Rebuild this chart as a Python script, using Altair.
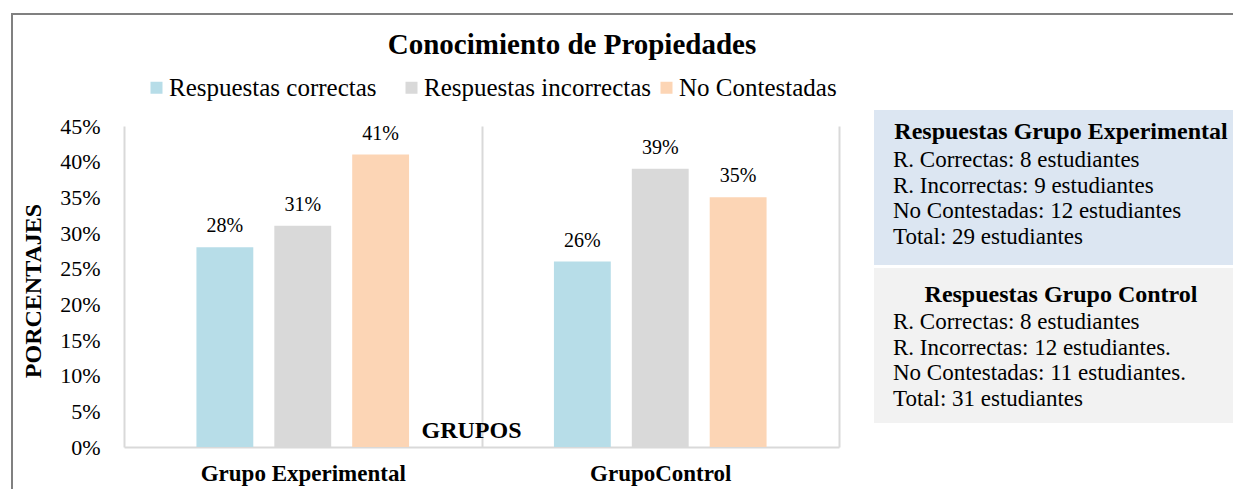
import altair as alt
import pandas as pd

# ---------------- data ----------------
groups = ["Grupo Experimental", "GrupoControl"]
series = ["Respuestas correctas", "Respuestas incorrectas", "No Contestadas"]
exp_values = [0.28, 0.31, 0.41]
ctrl_values = [0.26, 0.39, 0.35]
colors = ["#b7dde8", "#d9d9d9", "#fcd5b5"]
y_ticks = [0.0, 0.05, 0.10, 0.15, 0.20, 0.25, 0.30, 0.35, 0.40, 0.45]

title_text = "Conocimiento de Propiedades"
x_title = "GRUPOS"
y_title = "PORCENTAJES"
exp_box_title = "Respuestas Grupo Experimental"
exp_box_lines = ["R. Correctas: 8 estudiantes", "R. Incorrectas: 9 estudiantes",
                 "No Contestadas: 12 estudiantes", "Total: 29 estudiantes"]
ctrl_box_title = "Respuestas Grupo Control"
ctrl_box_lines = ["R. Correctas: 8 estudiantes", "R. Incorrectas: 12 estudiantes.",
                  "No Contestadas: 11 estudiantes.", "Total: 31 estudiantes"]

rows = []
for g, vals in zip(groups, [exp_values, ctrl_values]):
    for s, v in zip(series, vals):
        rows.append({"grupo": g, "serie": s, "valor": v})
df = pd.DataFrame(rows)

FONT = "Liberation Serif"
W, H = 715, 321

x_enc = alt.X(
    "grupo:N", sort=groups,
    scale=alt.Scale(domain=groups, paddingInner=0, paddingOuter=0),
    axis=alt.Axis(
        title=x_title, titleX=347, titleY=-17, titleBaseline="middle", titleAlign="center",
        titleFont=FONT, titleFontSize=24, titleFontWeight="bold", titleColor="black",
        labelFont=FONT, labelFontSize=23, labelFontWeight="bold", labelColor="black",
        labelPadding=26, labelBaseline="middle", labelAngle=0, labelLimit=500,
        domainColor="#d9d9d9", domainWidth=2, ticks=False, tickSize=0,
        grid=True, gridColor="#d9d9d9", gridWidth=2, tickBand="extent",
    ),
)
xoff_enc = alt.XOffset(
    "serie:N", sort=series,
    scale=alt.Scale(domain=series, paddingInner=0.27, paddingOuter=0.93),
)
y_enc = alt.Y(
    "valor:Q",
    scale=alt.Scale(domain=[0, 0.45], nice=False),
    axis=alt.Axis(
        title=y_title, titleX=-91, titleY=164.5, titleAngle=-90, titleBaseline="middle",
        titleAlign="center", titleFont=FONT, titleFontSize=24, titleFontWeight="bold",
        titleColor="black",
        values=y_ticks, format=".0%", labelFont=FONT, labelFontSize=22, labelColor="black",
        labelPadding=24, labelOverlap=False, ticks=False, tickSize=0, domain=False, grid=False,
    ),
)
color_enc = alt.Color(
    "serie:N", sort=series,
    scale=alt.Scale(domain=series, range=colors),
    legend=alt.Legend(
        title=None, orient="none", legendX=20, legendY=-51, direction="horizontal",
        symbolType="square", symbolSize=144, symbolStrokeWidth=0, labelFont=FONT,
        labelFontSize=25, labelColor="black", labelLimit=500, labelOffset=0,
        columnPadding=2, padding=0, gridAlign="all",
    ),
)

base = alt.Chart(df)
bars = base.mark_bar().encode(x=x_enc, xOffset=xoff_enc, y=y_enc, color=color_enc)
labels = base.mark_text(dy=-21, baseline="middle", font=FONT, fontSize=20, color="black").encode(
    x=x_enc, xOffset=xoff_enc, y=y_enc,
    text=alt.Text("valor:Q", format=".0%"),
)


def one():
    return alt.Chart(pd.DataFrame({"k": [0]}))


def note(text, x, y, **kw):
    return alt.Chart(pd.DataFrame({"t": [text]})).mark_text(font=FONT, color="black", **kw).encode(
        x=alt.value(x), y=alt.value(y), text="t:N")


border = one().mark_rect(filled=False, stroke="#808080", strokeWidth=2).encode(
    x=alt.value(-112), x2=alt.value(1300), y=alt.value(-112), y2=alt.value(600))
box_exp = one().mark_rect(color="#dce6f2").encode(
    x=alt.value(750), x2=alt.value(1200), y=alt.value(-16), y2=alt.value(139))
box_ctrl = one().mark_rect(color="#f2f2f2").encode(
    x=alt.value(750), x2=alt.value(1200), y=alt.value(142), y2=alt.value(297))

title = note(title_text, 448, -81, fontSize=29, fontWeight="bold", align="center", baseline="middle")
t_exp = note(exp_box_title, 937, 6, fontSize=24, fontWeight="bold", align="center", baseline="middle")
b_exp = note("\n".join(exp_box_lines), 769, 34, fontSize=23, align="left", baseline="middle",
             lineBreak="\n", lineHeight=25.5)
t_ctrl = note(ctrl_box_title, 937, 169, fontSize=24, fontWeight="bold", align="center", baseline="middle")
b_ctrl = note("\n".join(ctrl_box_lines), 769, 196, fontSize=23, align="left", baseline="middle",
              lineBreak="\n", lineHeight=25.5)

chart = alt.layer(
    border, box_exp, box_ctrl, bars, labels, title, t_exp, b_exp, t_ctrl, b_ctrl
).properties(
    width=W, height=H,
    autosize=alt.AutoSizeParams(type="none"),
    padding={"left": 116, "top": 118, "right": 394, "bottom": 42},
).configure_view(stroke=None)

chart.save("out.html", embed_options={"renderer": "svg", "actions": False})
